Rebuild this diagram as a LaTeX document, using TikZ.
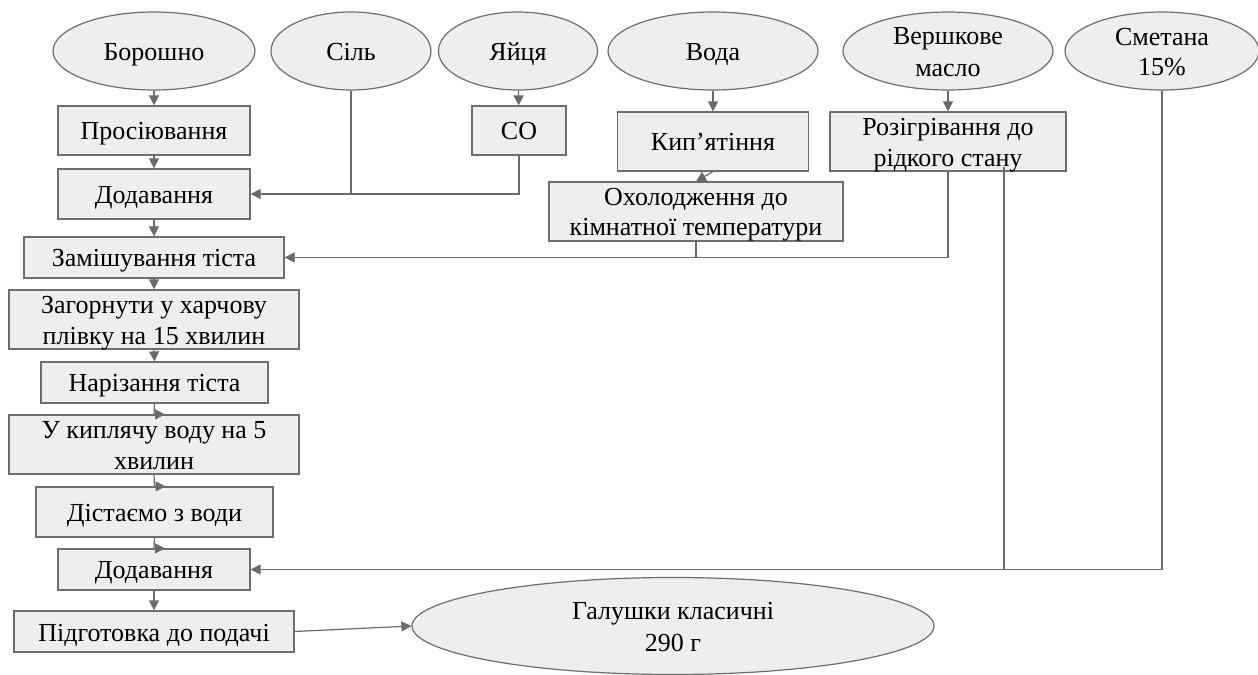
\documentclass[tikz,border=0pt]{standalone}
\usepackage{fontspec}
\setmainfont{Liberation Serif}
\usetikzlibrary{arrows.meta,shapes.geometric,calc}
\definecolor{boxfill}{HTML}{EEEEEE}
\definecolor{edgegray}{HTML}{6E6E6E}
\definecolor{linegray}{HTML}{6A6A6A}
\newcommand{\fz}{\fontsize{26bp}{30bp}\selectfont}
\newcommand{\ts}{\rule[-5.5bp]{0pt}{30bp}}
\begin{document}
\begin{tikzpicture}[x=1bp,y=-1bp,
  stepbox/.style={rectangle, draw=edgegray, fill=boxfill, line width=1.2bp,
    inner xsep=0pt, inner ysep=-2bp, align=center, font=\fz},
  oval/.style={ellipse, draw=edgegray, fill=boxfill, line width=1.2bp,
    inner xsep=0pt, inner ysep=-12bp, align=center, font=\fz},
  conn/.style={draw=linegray, line width=1.2bp},
  arr/.style={conn, -{Triangle[length=10bp,width=10bp]}}]
\useasboundingbox[fill=white] (0,0) rectangle (1258,675);

% ingredients
\node[oval, minimum width=202bp, minimum height=78bp] (e1) at (154,51) {\ts Борошно};
\node[oval, minimum width=160bp, minimum height=78bp] (e2) at (351,51) {\ts Сіль};
\node[oval, minimum width=159bp, minimum height=78bp] (e3) at (518,51) {\ts Яйця};
\node[oval, minimum width=210bp, minimum height=78bp] (e4) at (713,51) {\ts Вода};
\node[oval, minimum width=210bp, minimum height=78bp] (e5) at (948,51) {\ts Вершкове\\\ts масло};
\node[oval, minimum width=194bp, minimum height=78bp] (e6) at (1162,51) {\ts Сметана\\\ts 15\%};

% main column
\node[stepbox, minimum width=192bp, minimum height=49bp] (b1) at (154,130.5) {\ts Просіювання};
\node[stepbox, minimum width=94bp, minimum height=49bp] (so) at (519,130.5) {\ts СО};
\node[stepbox, minimum width=192bp, minimum height=50bp] (b2) at (154,194) {\ts Додавання};
\node[stepbox, minimum width=260bp, minimum height=41bp] (b3) at (154,257.5) {\ts Замішування тіста};
\node[stepbox, minimum width=290bp, minimum height=59bp] (b4) at (154,319.5) {\ts Загорнути у харчову\\\ts плівку на 15 хвилин};
\node[stepbox, minimum width=227bp, minimum height=41bp] (b5) at (154.5,382.5) {\ts Нарізання тіста};
\node[stepbox, minimum width=290bp, minimum height=59bp] (b6) at (154,444.5) {\ts У киплячу воду на 5\\\ts хвилин};
\node[stepbox, minimum width=237bp, minimum height=50bp] (b7) at (154.5,512) {\ts Дістаємо з води};
\node[stepbox, minimum width=192bp, minimum height=41bp] (b8) at (154,569.5) {\ts Додавання};
\node[stepbox, minimum width=280bp, minimum height=41bp] (b9) at (154,631.5) {\ts Підготовка до подачі};
\node[oval, minimum width=522bp, minimum height=97bp] (gal) at (673,626) {\ts Галушки класичні\\\ts 290 г};

% right branch
\node[stepbox, minimum width=191bp, minimum height=59bp] (kip) at (713,141.5) {\ts Кип’ятіння};
\node[stepbox, minimum width=236bp, minimum height=59bp] (roz) at (948,141.5) {\ts Розігрівання до\\\ts рідкого стану};
\node[stepbox, minimum width=294bp, minimum height=59bp] (ohol) at (696,211.5) {\ts Охолодження до\\\ts кімнатної температури};

\coordinate (rzs) at (1004,167);

% connectors
\draw[arr] (e1) -- (b1);
\draw[arr] (b1) -- (b2);
\draw[arr] (b2) -- (b3);
\draw[arr] (b3) -- (b4);
\draw[arr] (b4.south) -- (b5.north);
\draw[arr] (b5.south) -- (b6.north) -- ++(11,0);
\draw[arr] (b6.south) -- (b7.north) -- ++(11,0);
\draw[arr] (b7.south) -- (b8.north) -- ++(11,0);
\draw[arr] (b8.south) -- (b9.north);
\draw[arr] (b9.east) -- (gal.west);

\draw[arr] (e3) -- (so);
\draw[conn] (e2.south) -- (e2.south |- b2.east);
\draw[arr] (so.south) |- (b2.east);

\draw[arr] (e4) -- (kip);
\draw[arr] (kip.south) -- (ohol.north);
\draw[arr] (e5) -- (roz);
\draw[conn] (ohol.south) -- (ohol.south |- b3.east);
\draw[arr] (roz.south) |- (b3.east);

\draw[conn] (rzs) -- (rzs |- b8.east);
\draw[arr] (e6.south) |- (b8.east);
\end{tikzpicture}
\end{document}
